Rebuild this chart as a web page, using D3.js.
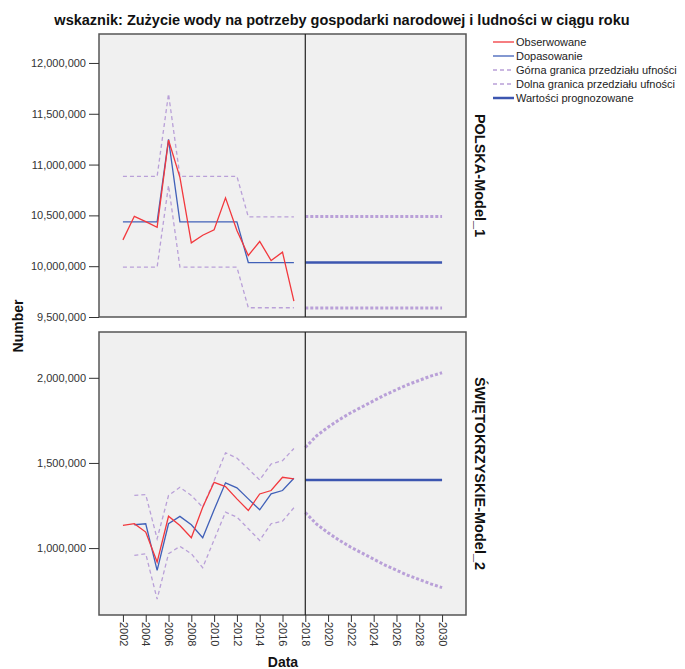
<!DOCTYPE html>
<html>
<head>
<meta charset="utf-8">
<script src="https://cdn.jsdelivr.net/npm/d3@7"></script>
<style>
  body { margin: 0; background: #fff; }
  text { font-family: "Liberation Sans", Arial, sans-serif; }
</style>
</head>
<body>
<div id="chart"></div>
<script>
// years
const obsYears = [2002, 2003, 2004, 2005, 2006, 2007, 2008, 2009, 2010, 2011, 2012, 2013, 2014, 2015, 2016, 2017];
const fcYears = [2018, 2019, 2020, 2021, 2022, 2023, 2024, 2025, 2026, 2027, 2028, 2029, 2030];
const xTicks = [2002, 2004, 2006, 2008, 2010, 2012, 2014, 2016, 2018, 2020, 2022, 2024, 2026, 2028, 2030];

// POLSKA-Model_1
const plObserved = [10259000, 10491000, 10439000, 10383000, 11242000, 10874000, 10230000, 10305000, 10358000, 10672000, 10351000, 10105000, 10243000, 10056000, 10138000, 9656000];
const plFit = [10436000, 10436000, 10436000, 10436000, 11248000, 10436000, 10436000, 10436000, 10436000, 10436000, 10436000, 10036000, 10036000, 10036000, 10036000, 10036000];
const plUpper = [10884000, 10884000, 10884000, 10884000, 11696000, 10884000, 10884000, 10884000, 10884000, 10884000, 10884000, 10485000, 10485000, 10485000, 10485000, 10485000];
const plLower = [9990000, 9990000, 9990000, 9990000, 10795000, 9990000, 9990000, 9990000, 9990000, 9990000, 9990000, 9591000, 9591000, 9591000, 9591000, 9591000];
const plFcFit = [10036000, 10036000, 10036000, 10036000, 10036000, 10036000, 10036000, 10036000, 10036000, 10036000, 10036000, 10036000, 10036000];
const plFcUpper = [10488000, 10488000, 10488000, 10488000, 10488000, 10488000, 10488000, 10488000, 10488000, 10488000, 10488000, 10488000, 10488000];
const plFcLower = [9588000, 9588000, 9588000, 9588000, 9588000, 9588000, 9588000, 9588000, 9588000, 9588000, 9588000, 9588000, 9588000];

// ŚWIĘTOKRZYSKIE-Model_2
const swObserved = [1133000, 1143000, 1094000, 918000, 1187000, 1133000, 1061000, 1240000, 1386000, 1361000, 1289000, 1221000, 1318000, 1338000, 1416000, 1406000];
const swFit = [null, 1137000, 1143000, 869000, 1143000, 1186000, 1137000, 1061000, 1225000, 1383000, 1354000, 1289000, 1225000, 1318000, 1338000, 1410000];
const swUpper = [null, 1309000, 1314000, 1055000, 1309000, 1357000, 1309000, 1240000, 1396000, 1559000, 1529000, 1465000, 1400000, 1494000, 1513000, 1585000];
const swLower = [null, 957000, 967000, 700000, 967000, 1010000, 967000, 885000, 1049000, 1211000, 1182000, 1114000, 1045000, 1143000, 1158000, 1237000];
const swFcFit = [1400000, 1400000, 1400000, 1400000, 1400000, 1400000, 1400000, 1400000, 1400000, 1400000, 1400000, 1400000, 1400000];
const swFcUpper = [1591000, 1660000, 1710000, 1755000, 1795000, 1830000, 1865000, 1900000, 1930000, 1960000, 1985000, 2010000, 2030000];
const swFcLower = [1209000, 1140000, 1090000, 1045000, 1005000, 970000, 935000, 900000, 870000, 840000, 815000, 790000, 768000];

const legendLabels = ["Obserwowane", "Dopasowanie", "Górna granica przedziału ufności", "Dolna granica przedziału ufności", "Wartości prognozowane"];

const W = 685, H = 669;
const px0 = 99, px1 = 466;
const red = "#f2383d", blue = "#4060b8", purple = "#b9a0d8", fcBlue = "#3c56b0";

const svg = d3.select("#chart").append("svg")
  .attr("width", W).attr("height", H);

const x = d3.scaleLinear().domain([1999.9, 2032.1]).range([px0, px1]);

const panels = [
  {
    name: "POLSKA-Model_1", top: 34, bottom: 317,
    domain: [9500000, 12285000],
    ticks: [9500000, 10000000, 10500000, 11000000, 11500000, 12000000],
    obs: plObserved, fit: plFit, up: plUpper, lo: plLower,
    fcFit: plFcFit, fcUp: plFcUpper, fcLo: plFcLower
  },
  {
    name: "ŚWIĘTOKRZYSKIE-Model_2", top: 332, bottom: 615,
    domain: [607000, 2269000],
    ticks: [1000000, 1500000, 2000000],
    obs: swObserved, fit: swFit, up: swUpper, lo: swLower,
    fcFit: swFcFit, fcUp: swFcUpper, fcLo: swFcLower
  }
];

panels.forEach(p => {
  const y = d3.scaleLinear().domain(p.domain).range([p.bottom, p.top]);
  const g = svg.append("g");

  g.append("rect")
    .attr("x", px0).attr("y", p.top)
    .attr("width", px1 - px0).attr("height", p.bottom - p.top)
    .attr("fill", "#f0f0f0").attr("stroke", "#555").attr("stroke-width", 1.5);

  const line = d3.line()
    .defined(d => d[1] != null)
    .x(d => x(d[0])).y(d => y(d[1]));
  const pair = (yrs, vals) => yrs.map((yr, i) => [yr, vals[i]]);

  // confidence bounds (observed period)
  [p.up, p.lo].forEach(vals => {
    g.append("path").attr("d", line(pair(obsYears, vals)))
      .attr("fill", "none").attr("stroke", purple)
      .attr("stroke-width", 1.3).attr("stroke-dasharray", "4,3");
  });
  g.append("path").attr("d", line(pair(obsYears, p.fit)))
    .attr("fill", "none").attr("stroke", blue).attr("stroke-width", 1.3);
  g.append("path").attr("d", line(pair(obsYears, p.obs)))
    .attr("fill", "none").attr("stroke", red).attr("stroke-width", 1.3);

  // forecast
  [p.fcUp, p.fcLo].forEach(vals => {
    g.append("path").attr("d", line(pair(fcYears, vals)))
      .attr("fill", "none").attr("stroke", purple)
      .attr("stroke-width", 3).attr("stroke-dasharray", "3,2");
  });
  g.append("path").attr("d", line(pair(fcYears, p.fcFit)))
    .attr("fill", "none").attr("stroke", fcBlue).attr("stroke-width", 2.5);

  // reference line at 2018
  g.append("line")
    .attr("x1", x(2018)).attr("x2", x(2018))
    .attr("y1", p.top).attr("y2", p.bottom)
    .attr("stroke", "#222").attr("stroke-width", 1.2);

  // y axis
  const ya = g.append("g").attr("transform", `translate(${px0},0)`)
    .call(d3.axisLeft(y).tickValues(p.ticks).tickFormat(d3.format(",")).tickSize(10).tickSizeOuter(0));
  ya.select(".domain").remove();
  ya.selectAll("line").attr("stroke", "#333");
  ya.selectAll("text").attr("font-size", 11).attr("fill", "#333")
    .attr("font-family", "Liberation Sans, Arial, sans-serif");

  // strip label
  const cy = (p.top + p.bottom) / 2;
  g.append("text")
    .attr("transform", `translate(${475},${cy}) rotate(90)`)
    .attr("text-anchor", "middle")
    .attr("font-size", 14.5).attr("font-weight", "bold").attr("fill", "#111")
    .text(p.name);
});

// x axis under bottom panel
const xa = svg.append("g").attr("transform", `translate(0,615)`)
  .call(d3.axisBottom(x).tickValues(xTicks).tickFormat(d3.format("d")).tickSize(7).tickSizeOuter(0));
xa.select(".domain").remove();
xa.selectAll("line").attr("stroke", "#333");
xa.selectAll("text")
  .attr("font-size", 11).attr("fill", "#333")
  .attr("font-family", "Liberation Sans, Arial, sans-serif")
  .attr("transform", "rotate(90)")
  .attr("x", 7).attr("y", 0).attr("dy", "0.35em")
  .attr("text-anchor", "start");

// title
svg.append("text")
  .attr("x", 342).attr("y", 25)
  .attr("text-anchor", "middle")
  .attr("font-family", "Liberation Sans Narrow, Arial Narrow, sans-serif")
  .attr("font-size", 14.5).attr("font-weight", "bold").attr("fill", "#111")
  .text("wskaznik: Zużycie wody na potrzeby gospodarki narodowej i ludności w ciągu roku");

// axis titles
svg.append("text")
  .attr("transform", "translate(23,326) rotate(-90)")
  .attr("text-anchor", "middle")
  .attr("font-size", 14).attr("font-weight", "bold").attr("fill", "#111")
  .text("Number");
svg.append("text")
  .attr("x", 283).attr("y", 667)
  .attr("text-anchor", "middle")
  .attr("font-size", 14).attr("font-weight", "bold").attr("fill", "#111")
  .text("Data");

// legend
const legStyles = [
  { color: red, w: 1.3, dash: null },
  { color: blue, w: 1.3, dash: null },
  { color: purple, w: 1.3, dash: "4,3" },
  { color: purple, w: 1.3, dash: "4,3" },
  { color: fcBlue, w: 2.5, dash: null }
];
const leg = svg.append("g").attr("transform", "translate(493,42)");
legendLabels.forEach((lab, i) => {
  const row = leg.append("g").attr("transform", `translate(0,${i * 14})`);
  row.append("line").attr("x1", 0).attr("x2", 21).attr("y1", 0).attr("y2", 0)
    .attr("stroke", legStyles[i].color).attr("stroke-width", legStyles[i].w)
    .attr("stroke-dasharray", legStyles[i].dash);
  row.append("text").attr("x", 23).attr("y", 0).attr("dy", "0.35em")
    .attr("font-size", 11).attr("fill", "#222").text(lab);
});
</script>
</body>
</html>
